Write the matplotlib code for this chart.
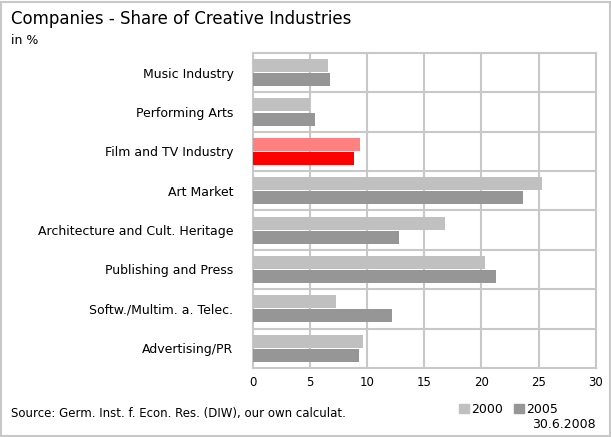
import matplotlib.pyplot as plt
import numpy as np
from matplotlib.patches import Rectangle

plt.rcParams['font.family'] = ['DejaVu Sans']

# data (in %)
categories = ['Music Industry', 'Performing Arts', 'Film and TV Industry', 'Art Market',
              'Architecture and Cult. Heritage', 'Publishing and Press',
              'Softw./Multim. a. Telec.', 'Advertising/PR']
share_2000 = [6.6, 5.0, 9.4, 25.3, 16.8, 20.3, 7.3, 9.6]
share_2005 = [6.7, 5.4, 8.8, 23.6, 12.8, 21.3, 12.2, 9.3]

col_2000 = ['#c0c0c0'] * 8
col_2005 = ['#969696'] * 8
# highlight film and TV
col_2000[2] = '#ff8080'
col_2005[2] = '#ff0000'

fig = plt.figure(figsize=(6.11, 4.37), dpi=100)
ax = fig.add_axes([0.414, 0.158, 0.561, 0.721])

y = np.arange(len(categories))
h = 0.33
ax.barh(y - 0.18, share_2000, height=h, color=col_2000, zorder=3)
ax.barh(y + 0.18, share_2005, height=h, color=col_2005, zorder=3)

ax.set_xlim(0, 30)
ax.set_ylim(len(categories) - 0.5, -0.5)
ax.set_xticks(range(0, 31, 5))
ax.set_yticks(y)
ax.set_yticklabels(categories, fontsize=9)
ax.tick_params(axis='x', labelsize=8.5, length=0, pad=6)
ax.tick_params(axis='y', length=0, pad=14)

# grid lines between categories and at each 5
for v in range(5, 30, 5):
    ax.axvline(v, color='#c8c8c8', lw=1.5, zorder=1)
for b in np.arange(0.5, len(categories) - 0.5, 1):
    ax.axhline(b, color='#c8c8c8', lw=1.5, zorder=1)
for s in ax.spines.values():
    s.set_color('#c8c8c8')
    s.set_linewidth(1.5)

fig.text(0.018, 0.945, 'Companies - Share of Creative Industries', fontsize=12)
fig.text(0.018, 0.9, 'in %', fontsize=9)
fig.text(0.018, 0.045, 'Source: Germ. Inst. f. Econ. Res. (DIW), our own calculat.', fontsize=8.5)

# legend
fig.patches.append(Rectangle((459 / 611, 1 - 413 / 437), 10 / 611, 9 / 437,
                             transform=fig.transFigure, color='#c0c0c0'))
fig.text(471 / 611, 1 - 413 / 437, '2000', fontsize=9)
fig.patches.append(Rectangle((514 / 611, 1 - 413 / 437), 10 / 611, 9 / 437,
                             transform=fig.transFigure, color='#969696'))
fig.text(526 / 611, 1 - 413 / 437, '2005', fontsize=9)
fig.text(0.975, 0.02, '30.6.2008', fontsize=9, ha='right')

# outer frame
fig.patches.append(Rectangle((0.002, 0.002), 0.996, 0.994, transform=fig.transFigure,
                             fill=False, edgecolor='#c8c8c8', lw=1.5))

fig.savefig('out.png', dpi=100)
